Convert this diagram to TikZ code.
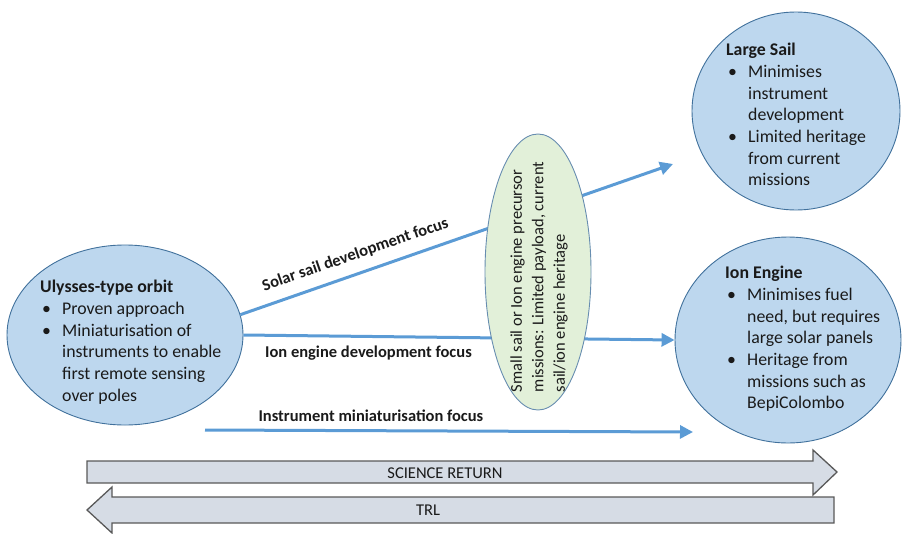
\documentclass[tikz,border=0pt]{standalone}
\usepackage{fontspec}
\setmainfont{Carlito}
\usetikzlibrary{arrows.meta,shapes.geometric}

\definecolor{circfill}{HTML}{BDD7EE}
\definecolor{circline}{HTML}{41719C}
\definecolor{greenfill}{HTML}{E2F0D9}
\definecolor{flowblue}{HTML}{5B9BD5}
\definecolor{barfill}{HTML}{D6DCE5}
\definecolor{barline}{HTML}{595959}
\definecolor{txt}{HTML}{1A1A1A}

\newcommand{\bl}{\hspace*{2pt}\makebox[20pt][l]{\textbullet}}
\newcommand{\ind}{\hspace*{22pt}}

\tikzset{
  goal/.style={ellipse, draw=circline, fill=circfill, line width=0.9pt, inner sep=0pt},
  precursor/.style={ellipse, draw=circline!80, fill=greenfill, line width=0.9pt, inner sep=0pt},
  bodytext/.style={text=txt, align=left, inner sep=0pt, font=\fontsize{17.8}{21.7}\selectfont},
  flow/.style={draw=flowblue, line width=3pt, -{Triangle[length=13pt,width=13pt]}},
  flowlabel/.style={text=txt, inner sep=0pt, font=\fontsize{16.5}{20}\selectfont\bfseries},
  trend/.style={draw=barline, fill=barfill, line width=1.3pt, line join=miter},
}

\begin{document}
\begin{tikzpicture}[x=1pt,y=-1pt]

      \useasboundingbox (0,0) rectangle (902,533);

      % the three mission options
      \node[goal, minimum width=236, minimum height=180] (ulysses) at (125,335) {};
      \node[goal, minimum width=208, minimum height=198] (sail) at (796,111) {};
      \node[goal, minimum width=226, minimum height=206] (ion) at (788,340) {};

      \node[bodytext, anchor=north west] (ulysses-txt) at (40,280)
        {\textbf{Ulysses-type orbit}\\ \bl Proven approach\\ \bl Miniaturisation of\\
         \ind instruments to enable\\ \ind first remote sensing\\ \ind over poles};
      \node[bodytext, anchor=north west] (sail-txt) at (726,43)
        {\textbf{Large Sail}\\ \bl Minimises\\ \ind instrument\\ \ind development\\
         \bl Limited heritage\\ \ind from current\\ \ind missions};
      \node[bodytext, anchor=north west] (ion-txt) at (725,266)
        {\textbf{Ion Engine}\\ \bl Minimises fuel\\ \ind need, but requires\\ \ind large solar panels\\
         \bl Heritage from\\ \ind missions such as\\ \ind BepiColombo};

      % development paths
      \coordinate (sailtip) at (673,164);
      \coordinate (ministart) at (205,430);
      \coordinate (minitip) at (693,432);

      \draw[flow] (ulysses.10) -- (sailtip)
        node[flowlabel, sloped, above=10pt, pos=0.28] (sail-lbl) {Solar sail development focus};
      \draw[flow] (ulysses.east) -- (ion.west)
        node[flowlabel, below=8pt, pos=0.29] (ion-lbl) {Ion engine development focus};
      \draw[flow] (ministart) -- (minitip)
        node[flowlabel, above=8pt, pos=0.34] (mini-lbl) {Instrument miniaturisation focus};

      % precursor missions sit on top of the paths
      \node[precursor, minimum width=106, minimum height=276] (pre) at (538,272) {};
      \node[text=txt, align=left, inner sep=0pt, rotate=90, font=\fontsize{16.5}{21.5}\selectfont]
        (pre-txt) at (539,277)
        {Small sail or Ion engine precursor\\ missions: Limited payload, current\\ sail/ion engine heritage};

      % science return / TRL bars
      \draw[trend] (87,461) -- (813,461) -- (813,450) -- (837,472) -- (813,495) -- (813,483) -- (87,483) -- cycle;
      \draw[trend] (834,497) -- (112,497) -- (112,487) -- (87,510) -- (112,533) -- (112,523) -- (834,523) -- cycle;
      \node[text=txt, font=\fontsize{16.5}{20}\selectfont] (science) at (445,473) {SCIENCE RETURN};
      \node[text=txt, font=\fontsize{16.5}{20}\selectfont] (trl) at (428,510) {TRL};

\end{tikzpicture}
\end{document}
